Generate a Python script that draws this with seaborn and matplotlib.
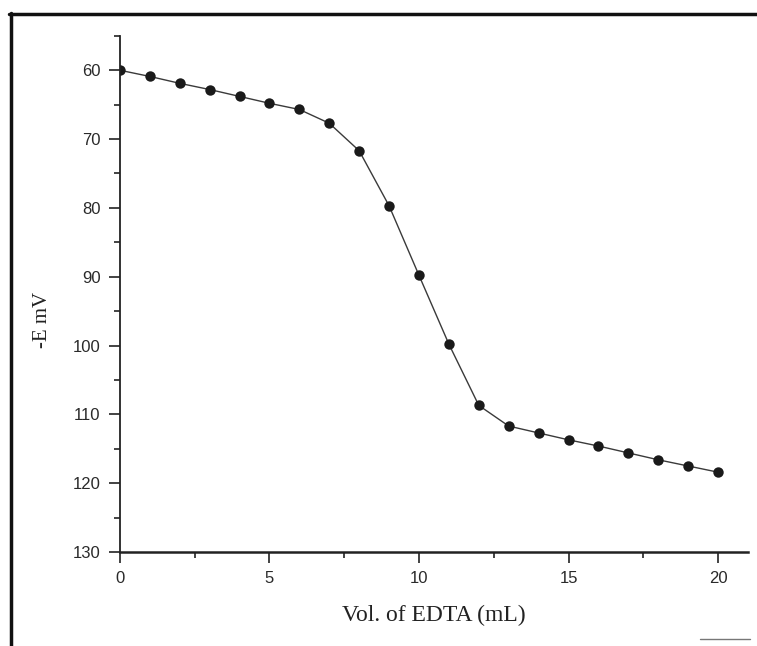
import numpy as np
import pandas as pd
import matplotlib
matplotlib.use("Agg")
import matplotlib.pyplot as plt
import seaborn as sns
from matplotlib.ticker import MultipleLocator
from matplotlib.lines import Line2D

vol_edta = [0, 1, 2, 3, 4, 5, 6, 7, 8, 9, 10, 11, 12, 13, 14, 15, 16, 17, 18, 19, 20]
neg_e_mv = [60.0, 60.9, 61.9, 62.8, 63.8, 64.8, 65.7, 67.7, 71.7, 79.7, 89.8, 99.8,
            108.7, 111.7, 112.7, 113.7, 114.6, 115.6, 116.6, 117.5, 118.4]
x_ticks = [0, 5, 10, 15, 20]
y_ticks = [60, 70, 80, 90, 100, 110, 120, 130]

df = pd.DataFrame({"vol": vol_edta, "E": neg_e_mv})

sns.set_theme(style="ticks")
plt.rcParams['font.family'] = ['Liberation Sans', 'DejaVu Sans']

fig = plt.figure(figsize=(7.57, 6.46), dpi=100)
ax = fig.add_axes([0.1585, 0.1455, 0.8295, 0.799])

sns.lineplot(data=df, x="vol", y="E", ax=ax, color="#3a3a3a", linewidth=1.0,
             marker="o", markersize=7.5, markerfacecolor="#1a1a1a",
             markeredgecolor="#1a1a1a", markeredgewidth=0)

ax.set_xlim(0, 21)
ax.set_ylim(130, 55)
ax.set_xticks(x_ticks)
ax.set_yticks(y_ticks)
ax.xaxis.set_minor_locator(MultipleLocator(2.5))
ax.yaxis.set_minor_locator(MultipleLocator(5))
ax.tick_params(axis="both", which="major", direction="out", length=8, width=1.2,
               colors="#222222", labelsize=12, pad=6)
ax.tick_params(axis="both", which="minor", direction="out", length=4, width=1.2,
               colors="#222222")
for lab in ax.get_xticklabels() + ax.get_yticklabels():
    lab.set_color("#2a2a2a")

for s in ["top", "right"]:
    ax.spines[s].set_visible(False)
ax.spines["left"].set_linewidth(1.3)
ax.spines["bottom"].set_linewidth(1.8)
ax.spines["left"].set_color("#222222")
ax.spines["bottom"].set_color("#222222")

ax.set_xlabel("Vol. of EDTA (mL)", family=["Liberation Serif"], fontsize=17,
              color="#222222", labelpad=13)
ax.set_ylabel("-E mV", family=["Liberation Serif"], fontsize=15,
              color="#222222", labelpad=22)
ax.yaxis.set_label_coords(-0.108, 0.45)

# page frame (scan border)
fig.add_artist(Line2D([10.5/757, 10.5/757], [0, 1 - 13/646], transform=fig.transFigure,
                      color="#111111", linewidth=2.5))
fig.add_artist(Line2D([9/757, 1], [1 - 14/646, 1 - 14/646], transform=fig.transFigure,
                      color="#111111", linewidth=2.5))
fig.add_artist(Line2D([700/757, 750/757], [1 - 639/646, 1 - 639/646], transform=fig.transFigure,
                      color="#777777", linewidth=1.0))

fig.savefig("out.png", dpi=100)
